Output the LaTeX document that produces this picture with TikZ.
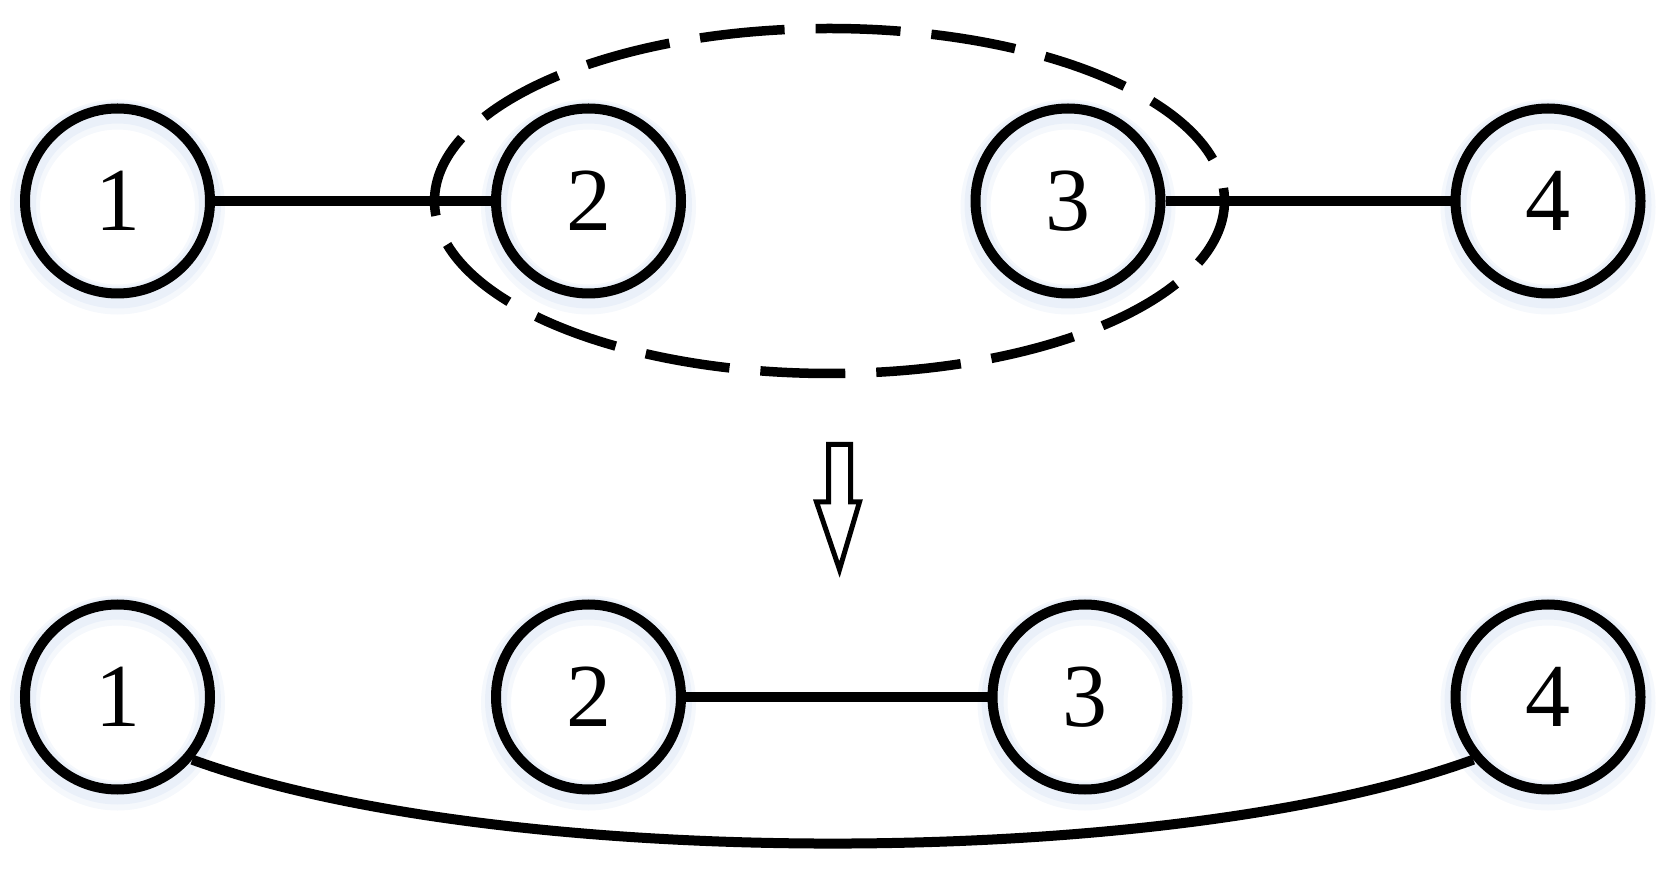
\documentclass[tikz,border=0pt]{standalone}
\usepackage{fontspec}
\newfontfamily\digitfont{Liberation Serif}
\definecolor{glowblue}{RGB}{214,226,244}
\begin{document}
\begin{tikzpicture}[x=1pt,y=1pt,
  vtx/.style={circle,draw,line width=10pt,minimum size=185pt,inner sep=0pt,
    font=\digitfont\fontsize{90}{90}\selectfont},
  edge/.style={line width=10pt},
  group/.style={line width=9.5pt,dash pattern=on 85pt off 31pt,dash phase=72pt},
  hollowarrow/.style={line width=5pt,line join=miter},
  glowa/.style={draw=glowblue,line width=30pt,opacity=0.25},
  glowb/.style={draw=glowblue,line width=22pt,opacity=0.35}]
\useasboundingbox (0,0) rectangle (1670,868);
% positions
\coordinate (p1) at (117.5,667);
\coordinate (p2) at (588.5,667);
\coordinate (p3) at (1068,667);
\coordinate (p4) at (1548,667);
\coordinate (q1) at (117.5,171);
\coordinate (q2) at (588.5,171);
\coordinate (q3) at (1085,171);
\coordinate (q4) at (1548,171);
% soft glow
\foreach \c in {p1,p2,p3,p4,q1,q2,q3,q4}{
  \draw[glowa] ([yshift=-6pt]\c) circle [radius=92.5];
  \draw[glowb] ([yshift=-4pt]\c) circle [radius=92.5];
}
% top row
\node[vtx] (t1) at (p1) {1};
\node[vtx] (t2) at (p2) {2};
\node[vtx] (t3) at (p3) {3};
\node[vtx] (t4) at (p4) {4};
\draw[edge] (t1) -- (t2);
\draw[edge] (t3) -- (t4);
\draw[group] (829.5,667) ellipse [x radius=395, y radius=172.5];
% arrow
\draw[hollowarrow] (828.5,423.5) -- (850.5,423.5) -- (850.5,366) -- (859.5,366)
  -- (839.5,298.5) -- (816.5,366) -- (828.5,366) -- cycle;
% bottom row
\node[vtx] (b1) at (q1) {1};
\node[vtx] (b2) at (q2) {2};
\node[vtx] (b3) at (q3) {3};
\node[vtx] (b4) at (q4) {4};
\draw[edge] (b2) -- (b3);
\draw[edge] (b1.-40) .. controls +(-20:327) and +(200:327) .. (b4.220);
\end{tikzpicture}
\end{document}
